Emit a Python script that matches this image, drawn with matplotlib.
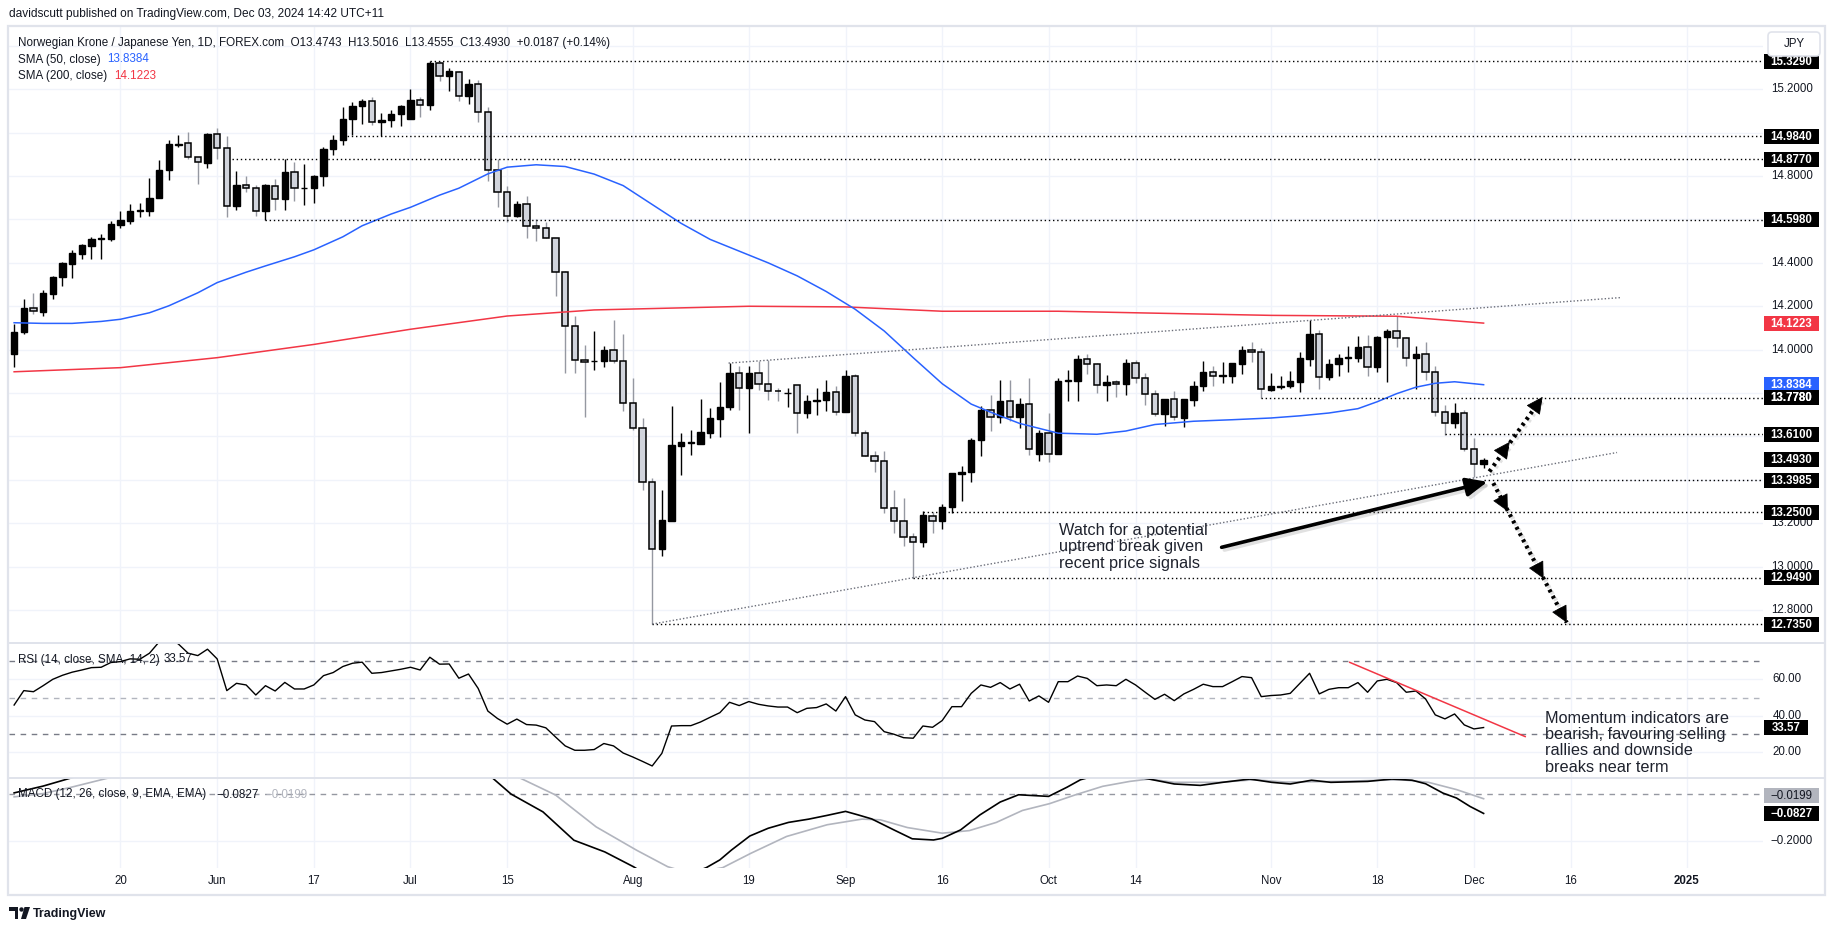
import numpy as np
import matplotlib
matplotlib.use("Agg")
import matplotlib.pyplot as plt
import matplotlib.patheffects as pe
from matplotlib.patches import Rectangle, FancyBboxPatch, Circle, Polygon

plt.rcParams['font.family'] = ['Liberation Sans', 'DejaVu Sans']

W, H = 1835, 931

# ---------------- data (bar index 0 = 20 May 2024, weekdays) ----------------
first_bar = -11

opens = [13.980, 14.081, 14.194, 14.174, 14.256, 14.336, 14.394, 14.440, 14.479, 14.512, 14.510,
         14.576, 14.593, 14.641, 14.641, 14.698, 14.826, 14.945, 14.952, 14.890, 14.861,
         14.995, 14.929, 14.661, 14.759, 14.744, 14.638, 14.756, 14.692, 14.818, 14.744,
         14.747, 14.799, 14.923, 14.964, 15.061, 15.121, 15.146, 15.049, 15.057, 15.084,
         15.064, 15.152, 15.126, 15.323, 15.262, 15.280, 15.169, 15.222, 15.095, 14.826,
         14.728, 14.618, 14.672, 14.571, 14.559, 14.513, 14.356, 14.109, 13.952, 13.946,
         13.946, 14.000, 13.949, 13.754, 13.638, 13.388, 13.080, 13.212, 13.558, 13.572,
         13.566, 13.618, 13.682, 13.734, 13.892, 13.823, 13.892, 13.842, 13.810, 13.800,
         13.837, 13.708, 13.765, 13.766, 13.805, 13.711, 13.880, 13.615, 13.512, 13.488,
         13.269, 13.211, 13.135, 13.115, 13.235, 13.208, 13.274, 13.429, 13.434, 13.582,
         13.723, 13.689, 13.765, 13.689, 13.749, 13.520, 13.615, 13.518, 13.857, 13.854,
         13.957, 13.934, 13.835, 13.851, 13.842, 13.938, 13.868, 13.795, 13.703, 13.772,
         13.685, 13.769, 13.831, 13.898, 13.880, 13.877, 13.935, 14.000, 13.991, 13.815,
         13.828, 13.831, 13.849, 13.958, 14.072, 13.872, 13.934, 13.962, 13.962, 14.012,
         13.920, 14.058, 14.085, 14.054, 13.962, 13.982, 13.897, 13.712, 13.662, 13.708,
         13.542, 13.4743]

highs = [14.117, 14.232, 14.263, 14.276, 14.340, 14.405, 14.459, 14.487, 14.517, 14.533, 14.591,
         14.638, 14.672, 14.676, 14.790, 14.876, 14.967, 14.987, 15.003, 14.890, 14.998,
         15.023, 14.984, 14.822, 14.799, 14.759, 14.764, 14.787, 14.880, 14.867, 14.856,
         14.806, 14.934, 14.987, 15.118, 15.141, 15.157, 15.165, 15.092, 15.103, 15.126,
         15.203, 15.165, 15.331, 15.329, 15.300, 15.283, 15.249, 15.242, 15.118, 14.880,
         14.756, 14.687, 14.710, 14.602, 14.590, 14.513, 14.364, 14.155, 14.020, 14.086,
         14.018, 14.135, 14.074, 13.869, 13.685, 13.408, 13.354, 13.738, 13.615, 13.631,
         13.774, 13.731, 13.851, 13.938, 13.923, 13.923, 13.946, 13.954, 13.823, 13.823,
         13.838, 13.792, 13.823, 13.862, 13.831, 13.905, 13.889, 13.631, 13.531, 13.531,
         13.351, 13.315, 13.154, 13.258, 13.254, 13.289, 13.431, 13.462, 13.592, 13.738,
         13.792, 13.862, 13.862, 13.777, 13.869, 13.631, 13.708, 13.869, 13.908, 13.977,
         13.980, 13.938, 13.885, 13.862, 13.957, 13.954, 13.892, 13.815, 13.772, 13.808,
         13.772, 13.854, 13.949, 13.923, 13.943, 13.938, 14.018, 14.034, 14.009, 13.892,
         13.877, 13.900, 13.988, 14.138, 14.092, 13.957, 13.982, 14.015, 14.062, 14.069,
         14.065, 14.097, 14.154, 14.058, 14.018, 14.034, 13.926, 13.746, 13.754, 13.723,
         13.592, 13.5016]

lows = [13.920, 14.070, 14.163, 14.155, 14.232, 14.294, 14.329, 14.417, 14.417, 14.417, 14.499,
        14.559, 14.579, 14.610, 14.614, 14.698, 14.784, 14.933, 14.879, 14.765, 14.839,
        14.880, 14.613, 14.645, 14.725, 14.618, 14.599, 14.645, 14.645, 14.687, 14.668,
        14.676, 14.756, 14.898, 14.941, 14.987, 15.041, 15.034, 14.984, 15.026, 15.031,
        15.064, 15.072, 15.103, 15.237, 15.191, 15.145, 15.131, 15.049, 14.779, 14.659,
        14.590, 14.610, 14.514, 14.499, 14.513, 14.248, 13.893, 13.893, 13.690, 13.906,
        13.918, 13.938, 13.715, 13.631, 13.354, 12.735, 13.049, 13.212, 13.423, 13.515,
        13.566, 13.592, 13.597, 13.723, 13.723, 13.615, 13.815, 13.769, 13.762, 13.735,
        13.615, 13.685, 13.700, 13.718, 13.700, 13.711, 13.600, 13.508, 13.438, 13.246,
        13.154, 13.095, 12.949, 13.092, 13.154, 13.172, 13.246, 13.303, 13.392, 13.512,
        13.623, 13.662, 13.669, 13.638, 13.515, 13.488, 13.482, 13.518, 13.762, 13.762,
        13.889, 13.800, 13.762, 13.780, 13.792, 13.846, 13.746, 13.692, 13.649, 13.674,
        13.643, 13.738, 13.808, 13.834, 13.846, 13.846, 13.886, 13.942, 13.777, 13.808,
        13.820, 13.823, 13.803, 13.923, 13.818, 13.862, 13.880, 13.895, 13.942, 13.877,
        13.895, 13.849, 14.012, 13.923, 13.818, 13.862, 13.692, 13.608, 13.638, 13.531,
        13.415, 13.4555]

closes = [14.083, 14.194, 14.178, 14.259, 14.337, 14.399, 14.444, 14.480, 14.510, 14.514, 14.578,
          14.597, 14.638, 14.643, 14.698, 14.827, 14.947, 14.950, 14.887, 14.864, 14.995,
          14.929, 14.661, 14.759, 14.744, 14.638, 14.759, 14.692, 14.818, 14.744, 14.747,
          14.802, 14.926, 14.966, 15.064, 15.123, 15.146, 15.049, 15.060, 15.088, 15.121,
          15.152, 15.129, 15.323, 15.262, 15.283, 15.169, 15.222, 15.095, 14.826, 14.728,
          14.618, 14.672, 14.571, 14.559, 14.513, 14.356, 14.109, 13.952, 13.944, 13.949,
          14.000, 13.946, 13.754, 13.638, 13.388, 13.080, 13.215, 13.562, 13.574, 13.574,
          13.620, 13.685, 13.735, 13.892, 13.823, 13.892, 13.842, 13.811, 13.808, 13.802,
          13.708, 13.765, 13.767, 13.805, 13.711, 13.880, 13.615, 13.512, 13.488, 13.269,
          13.208, 13.135, 13.115, 13.238, 13.208, 13.274, 13.431, 13.435, 13.585, 13.723,
          13.689, 13.765, 13.689, 13.749, 13.542, 13.615, 13.520, 13.857, 13.858, 13.957,
          13.934, 13.838, 13.851, 13.843, 13.938, 13.868, 13.795, 13.703, 13.772, 13.689,
          13.772, 13.834, 13.898, 13.880, 13.881, 13.938, 14.000, 13.988, 13.818, 13.831,
          13.834, 13.854, 13.962, 14.074, 13.874, 13.935, 13.962, 13.963, 14.012, 13.920,
          14.058, 14.088, 14.054, 13.962, 13.982, 13.897, 13.712, 13.662, 13.708, 13.542,
          13.472, 13.4930]

sma50_idx = [-11, -8, -5, -2, 0, 3, 5, 8, 10, 13, 15, 18, 20, 23, 25, 28, 30, 33, 35, 38, 40,
             43, 46, 49, 52, 55, 58, 61, 64, 67, 70, 73, 76, 79, 82, 85, 88, 90, 93, 97, 101,
             104, 107, 111, 115, 119, 122, 125, 128, 130, 132, 134, 136, 138, 141]
sma50_val = [14.124, 14.121, 14.121, 14.130, 14.140, 14.170, 14.202, 14.262, 14.309, 14.357,
             14.386, 14.428, 14.460, 14.520, 14.571, 14.625, 14.656, 14.712, 14.744, 14.810,
             14.841, 14.852, 14.844, 14.809, 14.756, 14.669, 14.582, 14.508, 14.454, 14.400,
             14.340, 14.268, 14.186, 14.086, 13.963, 13.843, 13.749, 13.712, 13.660, 13.615,
             13.610, 13.625, 13.655, 13.670, 13.677, 13.685, 13.695, 13.708, 13.728, 13.760,
             13.797, 13.827, 13.845, 13.852, 13.8384]

sma200_idx = [-11, 0, 10, 20, 30, 40, 49, 65, 75, 85, 97, 106, 119, 132, 141]
sma200_val = [13.898, 13.917, 13.963, 14.024, 14.094, 14.155, 14.183, 14.200, 14.197, 14.177,
              14.177, 14.169, 14.158, 14.154, 14.1223]

rsi_vals = [45.9, 53.8, 53.2, 56.5, 60.0, 62.2, 63.9, 65.1, 66.4, 66.6, 69.2,
            69.7, 71.2, 71.0, 74.3, 80.5, 83.0, 79.3, 74.3, 73.0, 76.5,
            71.2, 53.8, 57.8, 56.9, 51.4, 56.5, 53.6, 58.3, 54.7, 54.7,
            56.9, 62.0, 63.7, 67.0, 68.8, 69.4, 63.3, 63.7, 64.6, 65.5,
            66.6, 65.1, 72.1, 68.3, 68.4, 60.6, 62.9, 55.0, 42.6, 38.5,
            35.4, 38.2, 35.2, 34.9, 33.4, 28.4, 23.5, 21.1, 21.1, 21.5,
            24.8, 23.5, 19.6, 17.4, 15.0, 12.5, 19.4, 34.4, 34.6, 34.6,
            36.6, 39.2, 41.7, 47.4, 45.6, 47.8, 46.3, 45.4, 44.8, 44.8,
            41.7, 44.1, 44.5, 46.5, 42.6, 50.5, 40.5, 37.7, 36.8, 31.3,
            29.9, 28.0, 27.7, 34.4, 33.7, 37.4, 45.0, 45.0, 52.3, 56.9,
            55.6, 58.2, 54.7, 57.3, 48.1, 50.9, 47.4, 58.7, 58.7, 61.8,
            60.5, 56.5, 56.9, 56.5, 60.0, 56.9, 52.9, 49.0, 51.8, 48.3,
            52.0, 54.5, 57.3, 56.0, 56.0, 58.7, 61.5, 60.9, 50.5, 51.1,
            51.4, 52.3, 57.8, 63.3, 52.0, 54.5, 55.4, 55.4, 58.2, 52.9,
            59.1, 60.0, 58.2, 52.9, 53.6, 49.2, 40.5, 38.3, 41.0, 35.0,
            32.8, 33.57]

macd_idx = [-11, -8, -5, -2, 5, 15, 25, 33, 36, 38.5, 40.4, 43.7, 46.9, 50.1, 53.1, 55, 57, 59,
            60.6, 62, 63.2, 65.1, 67, 69.1, 71.2, 73.1, 75, 76.3, 77.7, 80, 81.9, 84.1, 85,
            86.9, 88.9, 91, 92.9, 94.2, 96, 97.9, 99.3, 101, 103.5, 106.4, 109, 111.7, 114,
            116.8, 119.1, 121, 123.2, 125.2, 129, 131.5, 133.6, 135, 136.8, 138.2, 139.6, 141]
macd_val = [0.005, 0.034, 0.070, 0.100, 0.160, 0.170, 0.160, 0.150, 0.110, 0.068, 0.000, -0.076,
            -0.197, -0.247, -0.311, -0.360, -0.380, -0.340, -0.314, -0.281, -0.239, -0.179,
            -0.146, -0.121, -0.107, -0.091, -0.074, -0.089, -0.106, -0.153, -0.191, -0.196,
            -0.189, -0.153, -0.089, -0.034, -0.003, -0.006, -0.010, 0.029, 0.061, 0.080, 0.085,
            0.064, 0.043, 0.037, 0.050, 0.064, 0.050, 0.043, 0.059, 0.050, 0.054, 0.064, 0.059,
            0.044, 0.004, -0.017, -0.053, -0.0827]

signal_idx = [-11, -8, -5, -1.4, 5, 20, 35, 39, 41.4, 45, 49.2, 53.4, 56.6, 59, 62.3, 65.2, 68.9,
              73.1, 76.7, 78.6, 81.4, 85, 87.8, 90.6, 93.3, 96.1, 98.8, 101.6, 104.4, 106.4, 109,
              113.6, 117.3, 120.5, 126, 132.5, 135.3, 138.2, 141]
signal_val = [-0.012, 0.002, 0.030, 0.067, 0.120, 0.160, 0.150, 0.100, 0.067, -0.004, -0.140,
              -0.240, -0.310, -0.340, -0.314, -0.253, -0.181, -0.131, -0.107, -0.110, -0.143,
              -0.167, -0.156, -0.121, -0.070, -0.041, -0.003, 0.033, 0.054, 0.064, 0.050, 0.050,
              0.061, 0.051, 0.054, 0.061, 0.050, 0.019, -0.0199]

tick_idx = [0, 10, 20, 30, 40, 53, 65, 75, 85, 96, 105, 119, 130, 140, 150, 162]
tick_labels = ["20", "Jun", "17", "Jul", "15", "Aug", "19", "Sep", "16", "Oct", "14", "Nov",
               "18", "Dec", "16", "2025"]

price_ticks = [15.2, 14.8, 14.4, 14.2, 14.0, 13.2, 13.0, 12.8]
price_grid = [12.8, 13.0, 13.2, 13.4, 13.6, 13.8, 14.0, 14.2, 14.4, 14.6, 14.8, 15.0, 15.2, 15.4]

levels = [15.329, 14.984, 14.877, 14.598, 13.778, 13.610, 13.3985, 13.250, 12.949, 12.735]
level_start = [32, 23, 11.5, 15, 118, 137, 141, 83, 82, 55]

upper_trend_x = [62.9, 155.2]
upper_trend_y = [13.938, 14.240]
lower_trend_x = [55, 154.8]
lower_trend_y = [12.735, 13.526]

big_arrow_from = (113.9, 13.089)
big_arrow_to = (141.4, 13.391)
up_path_x = [141.6, 147.1]
up_path_y = [13.438, 13.782]
up_heads = [(143.7, 13.575), (147.1, 13.782)]
down_path_x = [142.0, 149.6]
down_path_y = [13.385, 12.742]
down_heads = [(143.5, 13.255), (147.2, 12.945), (149.6, 12.742)]

rsi_trend_x = [127.15, 145.3]
rsi_trend_y = [69.3, 28.6]

last_price = 13.4930
last_sma50 = 13.8384
last_sma200 = 14.1223
last_rsi = 33.57
last_macd = -0.0827
last_signal = -0.0199

# ---------------- figure ----------------
fig = plt.figure(figsize=(W / 100, H / 100), dpi=100)
fig.patch.set_facecolor('white')

GRID = '#f0f3fa'
TXT = '#131722'
XL = (-11.53, 169.9)


def px_axes(x0, y0, x1, y1):
    a = fig.add_axes([x0 / W, 1 - y1 / H, (x1 - x0) / W, (y1 - y0) / H])
    a.set_facecolor('none')
    for s in a.spines.values():
        s.set_visible(False)
    a.tick_params(left=False, bottom=False, labelleft=False, labelbottom=False)
    a.set_xlim(*XL)
    return a


ax_p = px_axes(9, 27, 1763, 643)
ax_r = px_axes(9, 643, 1763, 778)
ax_m = px_axes(9, 778, 1763, 868)
ax_p.set_ylim(12.648, 15.487)
ax_r.set_ylim(5.9, 79.9)
ax_m.set_ylim(-0.3156, 0.0685)

for a in (ax_p, ax_r, ax_m):
    for t in tick_idx:
        a.axvline(t, color=GRID, lw=1, zorder=0)
for v in price_grid:
    ax_p.axhline(v, color=GRID, lw=1, zorder=0)
for v in (20, 40, 60):
    ax_r.axhline(v, color=GRID, lw=1, zorder=0)
ax_m.axhline(-0.2, color=GRID, lw=1, zorder=0)

# ---- candles ----
o = np.array(opens); h = np.array(highs); l = np.array(lows); c = np.array(closes)
x = np.arange(len(o)) + first_bar
up = c >= o
dn = ~up
ax_p.vlines(x[up], l[up], h[up], color='black', lw=1, zorder=2)
ax_p.vlines(x[dn], l[dn], h[dn], color='#9598a1', lw=1, zorder=2)
ax_p.bar(x[up], np.maximum(c[up] - o[up], 0.002), bottom=o[up], width=0.66,
         color='black', edgecolor='black', lw=1.0, zorder=3)
ax_p.bar(x[dn], np.maximum(o[dn] - c[dn], 0.002), bottom=c[dn], width=0.66,
         color='#d1d4dc', edgecolor='black', lw=1.1, zorder=3)

# ---- moving averages ----
ax_p.plot(sma200_idx, sma200_val, color='#f23645', lw=1.1, zorder=4)
ax_p.plot(sma50_idx, sma50_val, color='#2962ff', lw=1.1, zorder=4)

# ---- drawings ----
ax_p.hlines(levels, level_start, XL[1], colors='black', lw=1, linestyles=(0, (1, 2)), zorder=4)
ax_p.plot(upper_trend_x, upper_trend_y, color='#6a6d78', lw=1, ls=(0, (1, 1.5)), zorder=4)
ax_p.plot(lower_trend_x, lower_trend_y, color='#6a6d78', lw=1, ls=(0, (1, 1.5)), zorder=4)

shadow = [pe.SimpleLineShadow(offset=(2, -2), shadow_color='#888888', alpha=0.25), pe.Normal()]
ax_p.annotate('', xy=big_arrow_to, xytext=big_arrow_from,
              arrowprops=dict(arrowstyle='-|>,head_length=0.8,head_width=0.35', color='black',
                              lw=2.6, shrinkA=0, shrinkB=0, mutation_scale=16,
                              path_effects=shadow), zorder=6)

for px_, py_, heads in ((up_path_x, up_path_y, up_heads), (down_path_x, down_path_y, down_heads)):
    ax_p.plot(px_, py_, color='black', lw=3, ls=(0, (0.7, 1.0)), zorder=6,
              path_effects=[pe.SimpleLineShadow(offset=(1.5, -1.5), shadow_color='#888888', alpha=0.25),
                            pe.Normal()])
    dx = px_[1] - px_[0]
    dy = py_[1] - py_[0]
    for hx, hy in heads:
        ax_p.annotate('', xy=(hx, hy), xytext=(hx - 0.08 * dx, hy - 0.08 * dy),
                      arrowprops=dict(arrowstyle='-|>,head_length=0.9,head_width=0.45',
                                      color='black', lw=0.5, shrinkA=0, shrinkB=0,
                                      mutation_scale=12), zorder=7)

ax_p.text(97.1, 13.20, "Watch for a potential\nuptrend break given\nrecent price signals",
          ha='left', va='top', fontsize=11.7, color='#1e222d', linespacing=1.1, zorder=8)

# ---- RSI ----
ax_r.axhline(70, color='#787b86', lw=1, ls=(0, (4, 4)), zorder=1)
ax_r.axhline(50, color='#b2b5be', lw=1, ls=(0, (4, 4)), zorder=1)
ax_r.axhline(30, color='#787b86', lw=1, ls=(0, (4, 4)), zorder=1)
ax_r.plot(x, rsi_vals, color='black', lw=1.0, zorder=3)
ax_r.plot(rsi_trend_x, rsi_trend_y, color='#f23645', lw=1.1, zorder=4)
ax_r.text(147.3, 42.6, "Momentum indicators are\nbearish, favouring selling\nrallies and downside\nbreaks near term",
          ha='left', va='top', fontsize=11.7, color='#1e222d', linespacing=1.1, zorder=8,
          clip_on=False)

# ---- MACD ----
ax_m.axhline(0, color='#9598a1', lw=1, ls=(0, (4, 4)), zorder=1)
ax_m.plot(signal_idx, signal_val, color='#b2b5be', lw=1.2, zorder=3)
ax_m.plot(macd_idx, macd_val, color='black', lw=1.2, zorder=4)

ax_m.set_xticks(tick_idx)
ax_m.set_xticklabels(tick_labels)
ax_m.tick_params(axis='x', bottom=False, labelbottom=True, length=0, pad=5, labelsize=8.3,
                 labelcolor=TXT)
for lab in ax_m.get_xticklabels():
    if lab.get_text() == "2025":
        lab.set_fontweight('bold')

# ---------------- overlay (frame, scales, legends) ----------------
ov = fig.add_axes([0, 0, 1, 1], zorder=20)
ov.set_xlim(0, W)
ov.set_ylim(H, 0)
ov.axis('off')
ov.patch.set_alpha(0)


def ypx(a, v):
    return H - a.transData.transform((0, v))[1]


# frame and separators
ov.add_patch(Rectangle((8, 26), 1817, 869, fill=False, ec='#e0e3eb', lw=1.6))
ov.hlines([643, 778], 8, 1825, colors='#e0e3eb', lw=1.4)

# header / legends
ov.text(9, 14, "davidscutt published on TradingView.com, Dec 03, 2024 14:42 UTC+11",
        fontsize=8.6, color=TXT, va='center', ha='left')
ov.text(18, 43, "Norwegian Krone / Japanese Yen, 1D, FOREX.com  O13.4743  H13.5016  L13.4555  C13.4930  +0.0187 (+0.14%)",
        fontsize=8.4, color=TXT, va='center', ha='left')
ov.text(18, 59.5, "SMA (50, close)", fontsize=8.4, color=TXT, va='center', ha='left')
ov.text(107, 59.5, f"{last_sma50:.4f}", fontsize=8.4, color='#2962ff', va='center', ha='left')
ov.text(18, 76, "SMA (200, close)", fontsize=8.4, color=TXT, va='center', ha='left')
ov.text(114, 76, f"{last_sma200:.4f}", fontsize=8.4, color='#f23645', va='center', ha='left')

ov.text(18, 659.5, "RSI (14, close, SMA, 14, 2)", fontsize=8.4, color=TXT, va='center', ha='left')
ov.text(164, 659.5, f"{last_rsi:.2f}", fontsize=8.4, color=TXT, va='center', ha='left')
ov.text(18, 794.5, "MACD (12, 26, close, 9, EMA, EMA)", fontsize=8.4, color=TXT, va='center', ha='left')
ov.text(216, 794.5, f"\u2212{abs(last_macd):.4f}", fontsize=8.4, color=TXT, va='center', ha='left')
ov.text(265, 794.5, f"\u2212{abs(last_signal):.4f}", fontsize=8.4, color='#b2b5be', va='center', ha='left')

# price scale
for v in price_ticks:
    ov.text(1792, ypx(ax_p, v), f"{v:.4f}", ha='center', va='center', fontsize=8.3, color=TXT)


def box(y, txt, fc, tc='white', x0=1764, w=55, bold=True):
    ov.add_patch(Rectangle((x0, y - 7.5), w, 15, fc=fc, ec='none', zorder=5))
    ov.text(x0 + w / 2, y + 0.5, txt, ha='center', va='center', color=tc, fontsize=8.3,
            fontweight='bold' if bold else 'normal', zorder=6)


for v in levels:
    box(ypx(ax_p, v), f"{v:.4f}", 'black')
box(ypx(ax_p, last_sma200), f"{last_sma200:.4f}", '#f23645')
box(ypx(ax_p, last_sma50), f"{last_sma50:.4f}", '#2962ff')
box(ypx(ax_p, levels[4]), f"{levels[4]:.4f}", 'black')
box(ypx(ax_p, last_price), f"{last_price:.4f}", 'black')

# currency box
ov.add_patch(FancyBboxPatch((1768, 32), 52, 24, boxstyle='round,pad=0,rounding_size=4',
                            fc='white', ec='#e0e3eb', lw=1.2, zorder=7))
ov.text(1794, 44, "JPY", ha='center', va='center', fontsize=8.3, color=TXT, zorder=8)

# RSI scale
for v in (60, 40, 20):
    ov.text(1787, ypx(ax_r, v), f"{v:.2f}", ha='center', va='center', fontsize=8.3, color=TXT)
box(ypx(ax_r, last_rsi), f"{last_rsi:.2f}", 'black', x0=1764, w=44)

# MACD scale
ov.text(1792, ypx(ax_m, -0.2), "\u22120.2000", ha='center', va='center', fontsize=8.3, color=TXT)
box(ypx(ax_m, last_signal) - 3.5, f"\u2212{abs(last_signal):.4f}", '#b2b5be', tc=TXT, bold=False)
box(ypx(ax_m, last_macd), f"\u2212{abs(last_macd):.4f}", 'black')

# TradingView logo
ov.add_patch(Rectangle((9, 907), 9, 3.5, fc=TXT, ec='none'))
ov.add_patch(Rectangle((14.5, 907), 3.5, 12, fc=TXT, ec='none'))
ov.add_patch(Circle((21.5, 909.5), 2.2, fc=TXT, ec='none'))
ov.add_patch(Polygon([(24.5, 907), (30, 907), (26, 919), (21, 919)], closed=True, fc=TXT, ec='none'))
ov.text(33, 913.5, "TradingView", fontsize=9, fontweight='bold', color=TXT, va='center', ha='left')

fig.savefig("out.png", dpi=100, facecolor='white')
